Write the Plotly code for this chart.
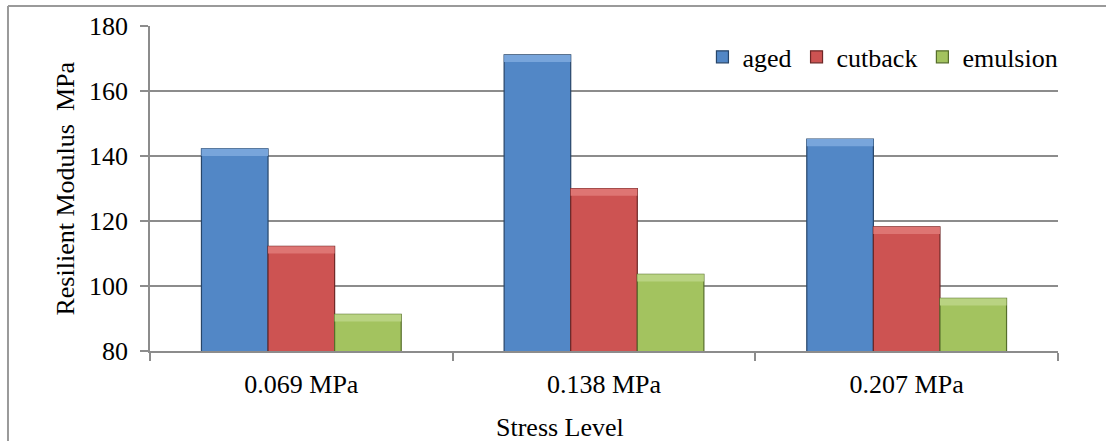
import plotly.graph_objects as go

categories = ["0.069 MPa", "0.138 MPa", "0.207 MPa"]
series_names = ["aged", "cutback", "emulsion"]
aged = [142.2, 171.1, 145.2]
cutback = [112.2, 130.0, 118.2]
emulsion = [91.3, 103.6, 96.2]
y_ticks = [80, 100, 120, 140, 160, 180]

values = [aged, cutback, emulsion]
face = ["#5287C6", "#CD5352", "#A3C35F"]
edge = ["#274569", "#6E2726", "#566E2B"]
top = ["#78A5DB", "#DE7573", "#B9D382"]

FONT = "Liberation Serif, Times New Roman, serif"
BEVEL = 2.2  # depth of top bevel, in data units

fig = go.Figure()
for name, vals, fc, ec in zip(series_names, values, face, edge):
    fig.add_trace(go.Bar(
        x=categories, y=vals, base=0, name=name,
        marker=dict(color=fc, line=dict(color=ec, width=1.2)),
        xaxis="x", yaxis="y",
    ))
# lighter top bevel strip, drawn on an overlaid matching axis
for name, vals, tc in zip(series_names, values, top):
    fig.add_trace(go.Bar(
        x=categories, y=[BEVEL] * len(vals), base=[v - BEVEL for v in vals],
        name=name, showlegend=False, hoverinfo="skip",
        marker=dict(color=tc, line=dict(width=0)),
        xaxis="x2", yaxis="y",
    ))

fig.update_layout(
    width=1106, height=441,
    margin=dict(l=150, r=48, t=26, b=90),
    paper_bgcolor="white", plot_bgcolor="white",
    barmode="group", bargap=0.34, bargroupgap=0,
    font=dict(family=FONT, size=26, color="black"),
    showlegend=True,
    legend=dict(
        orientation="h", x=1.006, xanchor="right", y=0.905, yanchor="middle",
        font=dict(family=FONT, size=26, color="black"),
        bgcolor="rgba(0,0,0,0)", itemwidth=30, traceorder="normal",
    ),
    xaxis=dict(
        type="category", showline=True, linecolor="#8c8c8c", linewidth=1.5,
        ticks="outside", tickson="boundaries", ticklen=8, tickcolor="#8c8c8c", tickwidth=1.5,
        showgrid=False, tickfont=dict(family=FONT, size=26, color="black"),
        ticklabelstandoff=9,
    ),
    xaxis2=dict(
        type="category", overlaying="x", matches="x", visible=False,
    ),
    yaxis=dict(
        range=[80, 180], tickvals=y_ticks, showline=True, linecolor="#8c8c8c", linewidth=1.5,
        ticks="outside", ticklen=8, tickcolor="#8c8c8c", tickwidth=1.5,
        showgrid=True, gridcolor="#8c8c8c", gridwidth=1.5, zeroline=False,
        tickfont=dict(family=FONT, size=26, color="black"),
        ticklabelstandoff=7,
    ),
    annotations=[
        dict(text="Resilient Modulus\u00a0 MPa", textangle=-90, xref="paper", yref="paper",
             x=-0.0936, y=0.5, xanchor="center", yanchor="middle", showarrow=False,
             font=dict(family=FONT, size=26, color="black")),
        dict(text="Stress Level", xref="paper", yref="paper",
             x=0.4515, y=-0.234, xanchor="center", yanchor="middle", showarrow=False,
             font=dict(family=FONT, size=26, color="black")),
    ],
    shapes=[
        dict(type="line", xref="paper", yref="paper", x0=-0.1564, x1=1.06, y0=1.0615, y1=1.0615,
             line=dict(color="#9a9a9a", width=2)),
        dict(type="line", xref="paper", yref="paper", x0=-0.1564, x1=-0.1564, y0=1.0615, y1=-0.3,
             line=dict(color="#9a9a9a", width=2)),
    ],
)

fig.write_html(
    "out.html",
    config={"displayModeBar": False},
    post_script="document.body.style.margin='0';document.body.style.overflow='hidden';",
)
